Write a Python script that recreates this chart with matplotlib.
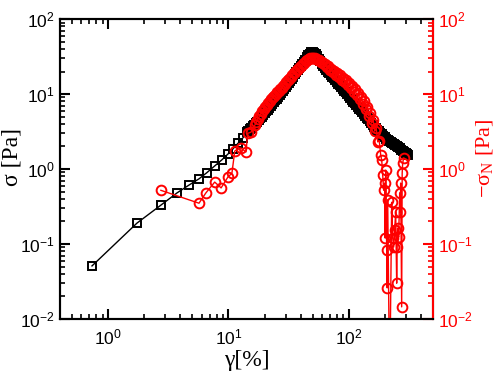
import matplotlib
matplotlib.use("Agg")
import matplotlib.pyplot as plt
from matplotlib.ticker import LogLocator, NullFormatter

plt.rcParams['font.family'] = ['Liberation Sans', 'DejaVu Sans']
plt.rcParams['mathtext.fontset'] = 'custom'
plt.rcParams['mathtext.rm'] = 'Liberation Sans'
plt.rcParams['mathtext.it'] = 'Liberation Sans:italic'

# sigma (black squares)
strain_sigma = [0.736, 1.74, 2.75, 3.74, 4.7, 5.7, 6.6, 7.7, 8.8, 9.9, 10.9, 12.0, 13.2,
                14.24, 15.08, 15.97, 16.91, 17.91, 18.97, 20.09, 21.27, 22.53, 23.86,
                25.27, 26.76, 28.34, 30.01, 31.78, 33.65, 35.64, 37.74, 39.97, 42.33,
                44.83, 47.47, 50.27, 53.23, 56.37, 59.70, 63.22, 66.95, 70.90, 75.08,
                79.51, 84.20, 89.17, 94.43, 100.0, 105.9, 112.1, 118.8, 125.8, 133.2,
                141.1, 149.4, 158.2, 167.5, 177.4, 187.9, 199.0, 210.7, 223.1, 236.3,
                250.2, 265.0, 280.6, 297.2, 308.8]
sigma = [0.051, 0.19, 0.33, 0.48, 0.61, 0.74, 0.89, 1.1, 1.32, 1.58, 1.85, 2.2, 2.6,
         3.11, 3.41, 3.74, 4.10, 4.50, 5.01, 5.58, 6.21, 6.92, 7.82,
         8.71, 9.70, 10.96, 12.4, 14.0, 15.85, 18.5, 20.9, 23.6, 26.9,
         30.8, 34.5, 36.5, 34.0, 29.4, 25.2, 22.4, 19.95, 17.9, 16.3,
         14.45, 13.2, 11.7, 10.6, 9.4, 8.3, 7.6, 6.7, 6.1, 5.4,
         4.8, 4.4, 3.86, 3.52, 3.21, 2.93, 2.67, 2.43, 2.29, 2.15,
         2.03, 1.91, 1.74, 1.63, 1.54]
# further sigma readings in the dense part of the sweep
strain_sigma_dense = [14.65, 15.52, 16.43, 17.40, 18.43, 19.52, 20.67, 21.89, 23.19, 24.55,
                      26.01, 27.54, 29.17, 30.89, 32.71, 34.64, 36.68, 38.84, 41.13, 43.56,
                      46.13, 48.85, 51.73, 54.78, 58.01, 61.44, 65.06, 68.90, 72.96, 77.27,
                      81.82, 86.65, 91.77, 97.18, 102.9, 109.0, 115.4, 122.3, 129.5, 137.1,
                      145.2, 153.8, 162.8, 172.4, 182.6, 193.4, 204.8, 216.9, 229.6, 243.2,
                      257.5, 272.7, 288.8, 302.9]
sigma_dense = [3.26, 3.57, 3.92, 4.30, 4.75, 5.29, 5.89, 6.56, 7.36, 8.25,
               9.19, 10.31, 11.66, 13.18, 14.9, 17.1, 19.7, 22.2, 25.2, 28.8,
               32.7, 36.0, 35.6, 31.8, 27.2, 23.7, 21.0, 18.9, 17.1, 15.3,
               13.8, 12.4, 11.1, 10.0, 8.8, 7.9, 7.1, 6.4, 5.7, 5.1,
               4.6, 4.12, 3.69, 3.36, 3.07, 2.80, 2.55, 2.36, 2.22, 2.09,
               1.97, 1.82, 1.68, 1.58]

# -sigma_N (red circles)
strain_normal = [2.75, 5.7, 6.5, 7.7, 8.7, 9.9, 10.7, 11.3, 12.7, 14.0, 14.5, 15.4,
                 16.6, 17.57, 18.61, 19.71, 20.87, 22.10, 23.40, 24.79, 26.25, 27.80,
                 29.44, 31.18, 33.02, 34.97, 37.03, 39.21, 41.53, 43.98, 46.57, 49.32,
                 52.23, 55.31, 58.57, 62.03, 65.69, 69.56, 73.66, 78.01, 82.61, 87.48,
                 92.64, 98.1, 103.9, 110.0, 116.5, 123.4, 130.7, 138.4, 146.6, 155.2,
                 164.4, 174.1, 184.3,
                 187.9, 191.5, 195.2, 199.0, 200.9, 202.8, 206.7, 208.7, 210.7, 218.9,
                 227.4, 231.8, 236.3, 240.8, 245.5, 250.2, 252.6, 255.0, 260.0, 265.0,
                 267.5, 270.1, 275.3, 278.0, 280.6, 286.0]
normal_stress = [0.52, 0.35, 0.48, 0.67, 0.56, 0.78, 0.88, 1.74, 1.91, 1.69, 3.0, 3.1,
                 3.86, 4.64, 5.48, 6.23, 7.09, 8.07, 9.01, 10.0, 10.96, 12.17,
                 13.6, 15.2, 16.9, 18.9, 20.9, 22.9, 25.1, 27.4, 29.5, 30.2,
                 30.2, 28.6, 26.9, 25.0, 22.9, 20.9, 19.4, 18.0, 16.7, 15.6,
                 14.5, 13.2, 11.9, 10.7, 9.6, 8.6, 7.4, 6.3, 5.1, 4.1,
                 3.2, 2.3, 1.54,
                 1.32, 0.83, 0.52, 0.65, 0.12, 0.97, 0.083, 0.026, 0.39, 0.001,
                 0.36, 0.12, 0.091, 0.154, 0.27, 0.030, 0.091, 0.163, 0.124, 0.48,
                 0.27, 0.65, 0.0145, 0.88, 1.2, 1.40]
# further -sigma_N readings in the dense part of the sweep
strain_normal_dense = [17.08, 18.08, 19.15, 20.28, 21.48, 22.74, 24.08, 25.51, 27.01, 28.61,
                       30.30, 32.09, 33.98, 35.99, 38.11, 40.35, 42.74, 45.26, 47.93, 50.76,
                       53.75, 56.92, 60.28, 63.84, 67.60, 71.59, 75.81, 80.28, 85.01, 90.03,
                       95.34, 100.96, 106.9, 113.2, 119.9, 127.0, 134.5, 142.4, 150.8, 159.8,
                       169.2, 179.2]
normal_stress_dense = [4.2, 5.1, 5.9, 6.7, 7.5, 8.6, 9.5, 10.5, 11.6, 12.9,
                       14.4, 16.0, 17.9, 19.9, 21.9, 24.0, 26.2, 28.4, 29.9, 30.5,
                       29.4, 28.3, 27.0, 25.2, 23.4, 21.6, 20.2, 18.9, 17.7, 16.6,
                       15.4, 14.2, 12.9, 11.6, 10.4, 9.2, 8.0, 6.8, 5.6, 4.5,
                       3.5, 2.4]

sig_pairs = sorted(zip(strain_sigma + strain_sigma_dense, sigma + sigma_dense))
sx = [p[0] for p in sig_pairs]
sy = [p[1] for p in sig_pairs]
nrm_pairs = sorted(zip(strain_normal + strain_normal_dense,
                       normal_stress + normal_stress_dense))
nx = [p[0] for p in nrm_pairs]
ny = [p[1] for p in nrm_pairs]

fig = plt.figure(figsize=(5.01, 3.82), dpi=100)
ax = fig.add_axes([0.12, 0.165, 0.744, 0.785])
ax.plot(sx, sy, color='black', lw=1.0, marker='s', ms=5.5,
        mfc='none', mec='black', mew=1.4)
ax.set_xscale('log')
ax.set_yscale('log')
ax.set_xlim(0.4, 500)
ax.set_ylim(1e-2, 1e2)

ax2 = ax.twinx()
ax2.plot(nx, ny, color='red', lw=1.0, marker='o', ms=7,
         mfc='none', mec='red', mew=1.4)
ax2.set_yscale('log')
ax2.set_ylim(1e-2, 1e2)
ax2.set_xlim(0.4, 500)

for a in (ax, ax2):
    for s in a.spines.values():
        s.set_linewidth(1.5)

ax.tick_params(which='major', direction='in', length=7, width=1.5, labelsize=12.5,
               top=True, right=False, pad=4)
ax.tick_params(which='minor', direction='in', length=3.6, width=1.2,
               top=True, right=False)
ax.tick_params(axis='x', which='major', pad=6)
ax.xaxis.set_major_locator(LogLocator(base=10, numticks=10))
ax.xaxis.set_minor_locator(LogLocator(base=10, subs=range(2, 10), numticks=20))
ax.xaxis.set_minor_formatter(NullFormatter())
ax.yaxis.set_minor_formatter(NullFormatter())

ax2.spines['right'].set_color('red')
ax2.tick_params(axis='y', which='major', direction='in', length=7, width=1.5,
                labelsize=12.5, colors='red', pad=4)
ax2.tick_params(axis='y', which='minor', direction='in', length=3.6, width=1.2,
                colors='red')
ax2.yaxis.set_minor_formatter(NullFormatter())

ax.set_xlabel('γ[%]', family='Liberation Serif', fontsize=17, labelpad=2)
ax.set_ylabel('σ [Pa]', family='Liberation Serif', fontsize=17)
ax.yaxis.set_label_coords(-0.102, 0.54)
ax2.set_ylabel(r'−σ$_\mathregular{N}$ [Pa]', family='Liberation Serif',
               fontsize=16, color='red')
ax2.yaxis.set_label_coords(1.112, 0.537)

fig.savefig('out.png', dpi=100)
